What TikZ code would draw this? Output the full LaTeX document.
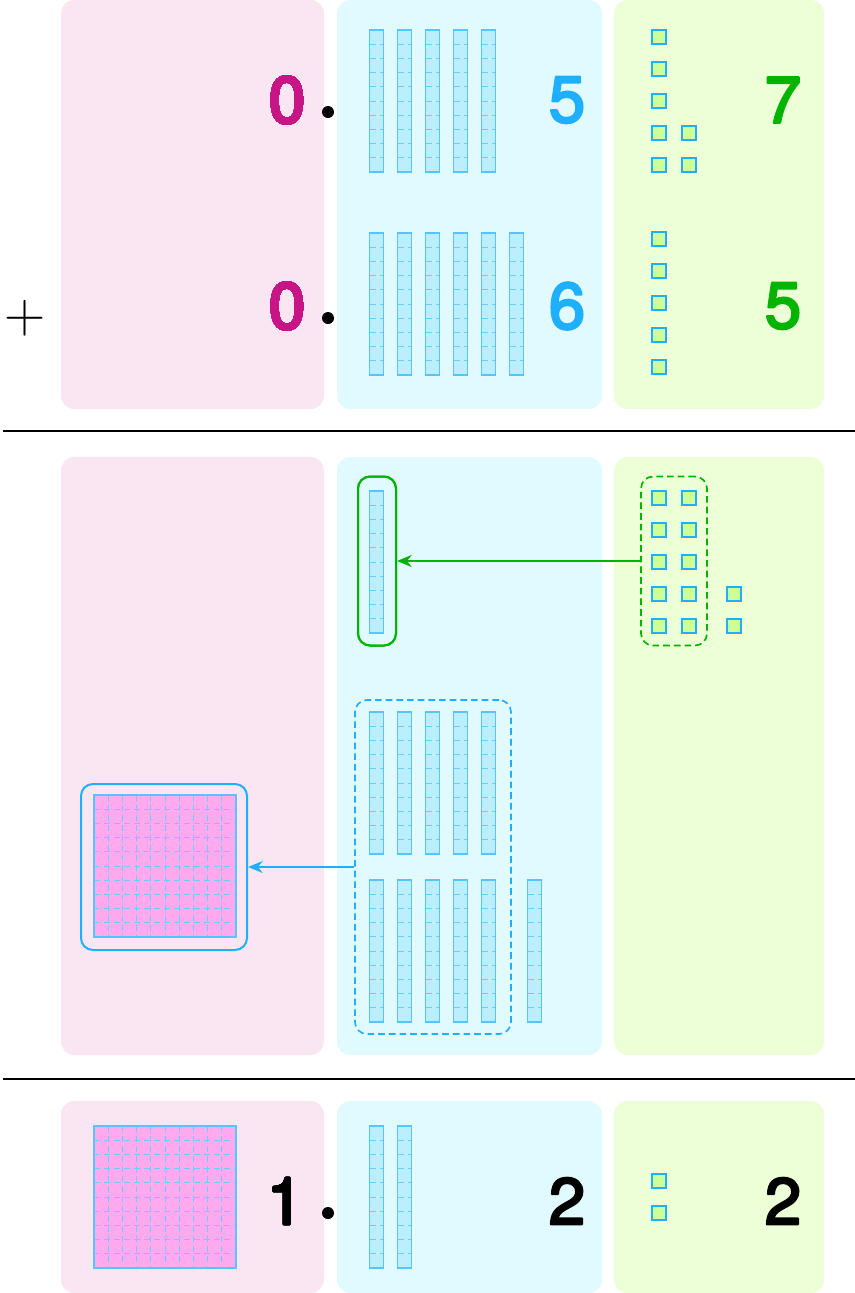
\documentclass[tikz,border=0pt]{standalone}
\usepackage{fontspec}
\setmainfont{TeX Gyre Heros}
\newfontfamily\digitfont[FakeBold=3.6]{TeX Gyre Heros}
\usetikzlibrary{arrows.meta}
\usepackage{xcolor}
\definecolor{pinkpanel}{RGB}{249,230,242}
\definecolor{bluepanel}{RGB}{225,250,255}
\definecolor{greenpanel}{RGB}{236,255,215}
\definecolor{rodfill}{RGB}{187,239,255}
\definecolor{unitfill}{RGB}{205,255,153}
\definecolor{hundredfill}{RGB}{255,170,238}
\definecolor{linkblue}{RGB}{30,176,255}
\definecolor{gridblue}{RGB}{110,205,255}
\definecolor{linkgreen}{RGB}{0,180,0}
\definecolor{magentadigit}{RGB}{199,21,133}
\newcommand{\pxl}{0.75pt}
\tikzset{%
    digit/.style={%
        font=\digitfont\fontsize{49}{49}\selectfont\special{pdf:literal 1 J 1 j},
        inner sep=0pt
    },
    holdbox/.style={%
        draw, line width=1.5pt, rounded corners=9pt, inner sep=0pt
    },
    holddash/.style={%
        holdbox, line width=1.25pt, dash pattern=on 5pt off 3pt
    },
    gridline/.style={%
        gridblue, line width=0.75pt, dash pattern=on 4.5pt off 3pt
    },
    carry/.style={%
        -{Stealth[length=11pt,width=9pt,inset=3.5pt]}, line width=1.2pt
    }
}
% one rod, ten cells, from its top left corner
\newcommand{\rodat}[2]{%
    \fill[rodfill] (#1+0.7,#2+1) rectangle ++(14,142);
    \foreach \k in {1,...,9}
        \draw[gridline] (#1+0.7,#2+1+14.2*\k) -- ++(14,0);
    \draw[linkblue!75, line width=0.8pt] (#1+0.7,#2+1) rectangle ++(14,142);
}
% one hundred square, from its top left corner
\newcommand{\squareat}[2]{%
    \fill[hundredfill] (#1,#2) rectangle ++(142,142);
    \foreach \k in {1,...,9} {
        \draw[gridline] (#1,#2+14.2*\k) -- ++(142,0);
        \draw[gridline] (#1+14.2*\k,#2) -- ++(0,142);
    }
    \draw[linkblue!75, line width=0.8pt] (#1,#2) rectangle ++(142,142);
}
% one unit, from its centre
\newcommand{\unitat}[2]{%
    \draw[linkblue, fill=unitfill, line width=1.1pt] (#1-7,#2-7) rectangle (#1+7,#2+7);
}
\begin{document}
\begin{tikzpicture}[x=0.75pt,y=-0.75pt]
    \useasboundingbox (0,0) rectangle (855,1293);
    % panels
    \foreach \ytop/\ybot in {0/409,457/1055,1101/1293} {
        \fill[pinkpanel, rounded corners=10pt] (61,\ytop) rectangle (324,\ybot);
        \fill[bluepanel, rounded corners=10pt] (337,\ytop) rectangle (602,\ybot);
        \fill[greenpanel, rounded corners=10pt] (614,\ytop) rectangle (824,\ybot);
    }
    \draw[line width=1.5pt] (3,431) -- (855,431);
    \draw[line width=1.5pt] (3,1079) -- (855,1079);
    % first number
    \foreach \x in {369,397,425,453,481} \rodat{\x}{29}
    \foreach \y in {37,69,101,133,165} \unitat{659}{\y}
    \foreach \y in {133,165} \unitat{689}{\y}
    \node[digit, color=magentadigit] (tenthsa) at (287,100) {0};
    \node[digit, color=linkblue] (hundredthsa) at (567,100) {5};
    \node[digit, color=linkgreen] (thousandthsa) at (783,100) {7};
    \fill (328,112) circle (4.5pt);
    % second number
    \foreach \x in {369,397,425,453,481,509} \rodat{\x}{232}
    \foreach \y in {239,271,303,335,367} \unitat{659}{\y}
    \node[digit, color=magentadigit] (tenthsb) at (287,306) {0};
    \node[digit, color=linkblue] (hundredthsb) at (567,306) {6};
    \node[digit, color=linkgreen] (thousandthsb) at (783,306) {5};
    \fill (328,318) circle (4.5pt);
    \node[font=\fontsize{25}{25}\selectfont, inner sep=0pt, scale=1.72] (plus) at (25,318) {$+$};
    % regrouping
    \rodat{369}{490}
    \foreach \y in {498,530,562,594,626} {
        \unitat{659}{\y}
        \unitat{689}{\y}
    }
    \foreach \y in {594,626} \unitat{734}{\y}
    \foreach \x in {369,397,425,453,481} {
        \rodat{\x}{711}
        \rodat{\x}{879}
    }
    \rodat{527}{879}
    \squareat{94}{795}
    \node[holdbox, color=linkgreen, minimum width=38*\pxl, minimum height=169*\pxl] (onerod) at (377,561) {};
    \node[holddash, color=linkgreen, minimum width=66*\pxl, minimum height=169*\pxl] (tenunits) at (674,561) {};
    \node[holdbox, color=linkblue, minimum width=166*\pxl, minimum height=166*\pxl] (onesquare) at (164,867) {};
    \node[holddash, color=linkblue, minimum width=156*\pxl, minimum height=334*\pxl] (tenrods) at (433,867) {};
    \draw[carry, linkgreen] (tenunits.west) -- (onerod.east);
    \draw[carry, linkblue] (tenrods.west) -- (onesquare.east);
    % sum
    \squareat{94}{1126}
    \foreach \x in {369,397} \rodat{\x}{1125}
    \foreach \y in {1181,1213} \unitat{659}{\y}
    \node[digit] (tenthsc) at (285,1201) {1};
    \node[digit] (hundredthsc) at (567,1201) {2};
    \node[digit] (thousandthsc) at (783,1201) {2};
    \fill (328,1213) circle (4.5pt);
\end{tikzpicture}
\end{document}
